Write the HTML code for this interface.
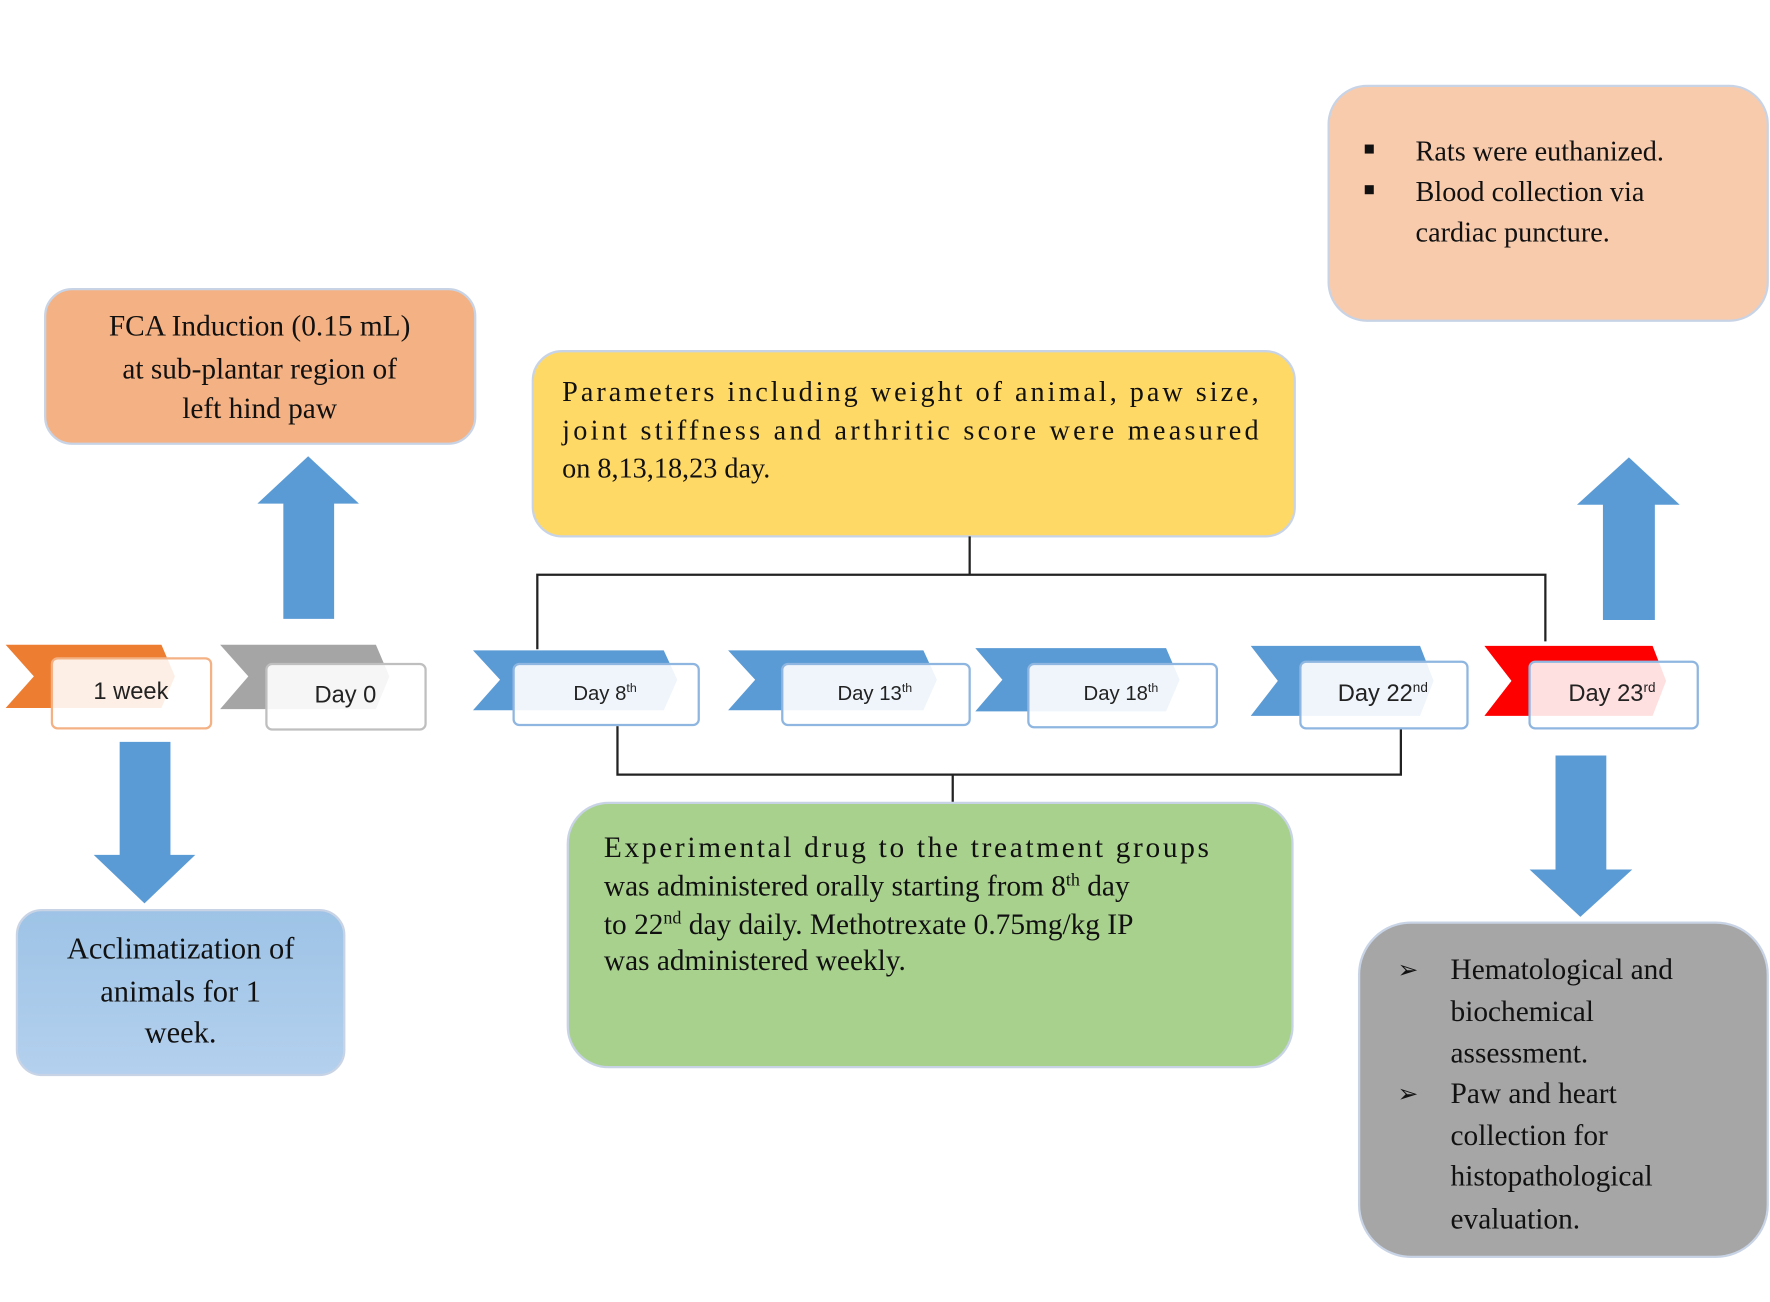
<!DOCTYPE html>
<html><head><meta charset="utf-8"><style>
html,body{margin:0;padding:0;background:#fff;}
svg{display:block;}
.s{font-family:"Liberation Serif",serif;fill:#111;}
.a{font-family:"Liberation Sans",sans-serif;fill:#222;}
</style></head><body>
<svg width="1770" height="1302" viewBox="0 0 1568 1153" preserveAspectRatio="none" xmlns="http://www.w3.org/2000/svg">
<defs>
<linearGradient id="bg" x1="0" y1="0" x2="0" y2="1"><stop offset="0" stop-color="#9dc3e6"/><stop offset="1" stop-color="#b4d0ee"/></linearGradient>
</defs>
<!-- boxes -->
<rect x="40" y="256" width="381" height="137" rx="24" fill="#f4b183" stroke="#c8d4e6" stroke-width="2"/>
<rect x="472" y="311" width="675" height="164" rx="26" fill="#ffd966" stroke="#c8d4e6" stroke-width="2"/>
<rect x="1177" y="76" width="389" height="208" rx="34" fill="#f8cbad" stroke="#c8d4e6" stroke-width="2"/>
<rect x="503" y="711" width="642" height="234" rx="36" fill="#a9d18e" stroke="#c8d4e6" stroke-width="2"/>
<rect x="15" y="806" width="290" height="146" rx="22" fill="url(#bg)" stroke="#c8d4e6" stroke-width="2"/>
<rect x="1204" y="817" width="362" height="296" rx="46" fill="#a6a6a6" stroke="#c8d4e6" stroke-width="2"/>

<!-- arrows -->
<polygon points="251,548 296,548 296,446 318,446 273,404 228,446 251,446" fill="#5b9bd5"/>
<polygon points="1420,549 1466,549 1466,447 1488,447 1443,405 1397,447 1420,447" fill="#5b9bd5"/>
<polygon points="106,657 151,657 151,757 173,757 128,800 83,757 106,757" fill="#5b9bd5"/>
<polygon points="1378,669 1423,669 1423,770 1446,770 1400,812 1355,770 1378,770" fill="#5b9bd5"/>

<!-- connectors -->
<g stroke="#222" stroke-width="2" fill="none">
<polyline points="859,475 859,509"/>
<polyline points="476,575 476,509 1369,509 1369,568"/>
<polyline points="547,643 547,686 1241,686 1241,645"/>
<polyline points="844,686 844,710"/>
</g>

<!-- chevrons -->
<g>
<polygon points="5,571 143,571 155,599 143,627 5,627 30,599" fill="#ed7d31"/>
<rect x="46" y="583" width="141" height="62" rx="5" fill="#fff" fill-opacity="0.88" stroke="#f4b183" stroke-width="2"/>
<polygon points="195,571 333,571 345,599 333,628 195,628 220,599" fill="#a5a5a5"/>
<rect x="236" y="588" width="141" height="58" rx="5" fill="#fff" fill-opacity="0.9" stroke="#bfbfbf" stroke-width="2"/>
<polygon points="419,576 588,576 600,602 588,629 419,629 443,602" fill="#5b9bd5"/>
<rect x="455" y="588" width="164" height="54" rx="5" fill="#fff" fill-opacity="0.9" stroke="#8fb6e0" stroke-width="2"/>
<polygon points="645,576 818,576 830,602 818,629 645,629 669,602" fill="#5b9bd5"/>
<rect x="693" y="588" width="166" height="54" rx="5" fill="#fff" fill-opacity="0.9" stroke="#8fb6e0" stroke-width="2"/>
<polygon points="864,574 1033,574 1045,602 1033,630 864,630 888,602" fill="#5b9bd5"/>
<rect x="911" y="588" width="167" height="56" rx="5" fill="#fff" fill-opacity="0.9" stroke="#8fb6e0" stroke-width="2"/>
<polygon points="1108,572 1258,572 1270,603 1258,634 1108,634 1132,603" fill="#5b9bd5"/>
<rect x="1152" y="586" width="148" height="59" rx="5" fill="#fff" fill-opacity="0.9" stroke="#8fb6e0" stroke-width="2"/>
<polygon points="1315,572 1464,572 1476,603 1464,634 1315,634 1339,603" fill="#ff0000"/>
<rect x="1355" y="586" width="149" height="59" rx="5" fill="#fff" fill-opacity="0.88" stroke="#8fb6e0" stroke-width="2"/>
</g>

<!-- timeline labels -->
<text class="a" x="116" y="619" font-size="21" text-anchor="middle">1 week</text>
<text class="a" x="306" y="622" font-size="21" text-anchor="middle">Day 0</text>
<text class="a" x="536" y="620" font-size="18" text-anchor="middle">Day 8<tspan font-size="11" dy="-7">th</tspan></text>
<text class="a" x="775" y="620" font-size="18" text-anchor="middle">Day 13<tspan font-size="11" dy="-7">th</tspan></text>
<text class="a" x="993" y="620" font-size="18" text-anchor="middle">Day 18<tspan font-size="11" dy="-7">th</tspan></text>
<text class="a" x="1225" y="621" font-size="21" text-anchor="middle">Day 22<tspan font-size="12" dy="-8">nd</tspan></text>
<text class="a" x="1428" y="621" font-size="21" text-anchor="middle">Day 23<tspan font-size="12" dy="-8">rd</tspan></text>

<!-- FCA -->
<g class="s" font-size="26" text-anchor="middle">
<text x="230" y="297">FCA Induction (0.15 mL)</text>
<text x="230" y="335">at sub-plantar region of</text>
<text x="230" y="370">left hind paw</text>
</g>
<!-- params -->
<g class="s" font-size="25">
<text x="498" y="355" textLength="617" lengthAdjust="spacing">Parameters including weight of animal, paw size,</text>
<text x="498" y="389" textLength="617" lengthAdjust="spacing">joint stiffness and arthritic score were measured</text>
<text x="498" y="423">on 8,13,18,23 day.</text>
</g>
<!-- rats -->
<g class="s" font-size="25">
<rect x="1209" y="128" width="8" height="8" fill="#111"/>
<rect x="1209" y="164" width="8" height="8" fill="#111"/>
<text x="1254" y="142">Rats were euthanized.</text>
<text x="1254" y="178">Blood collection via</text>
<text x="1254" y="214">cardiac puncture.</text>
</g>
<!-- green -->
<g class="s" font-size="26">
<text x="535" y="759" textLength="536" lengthAdjust="spacing">Experimental drug to the treatment groups</text>
<text x="535" y="793">was administered orally starting from 8<tspan font-size="16" dy="-9">th</tspan><tspan dy="9"> day</tspan></text>
<text x="535" y="827">to 22<tspan font-size="16" dy="-9">nd</tspan><tspan dy="9"> day daily. Methotrexate 0.75mg/kg IP</tspan></text>
<text x="535" y="859">was administered weekly.</text>
</g>
<!-- acclim -->
<g class="s" font-size="27" text-anchor="middle">
<text x="160" y="849">Acclimatization of</text>
<text x="160" y="887">animals for 1</text>
<text x="160" y="923">week.</text>
</g>
<!-- gray -->
<g class="s" font-size="26">
<text x="1238" y="866" font-size="22" font-family="DejaVu Sans,sans-serif">➢</text>
<text x="1238" y="976" font-size="22" font-family="DejaVu Sans,sans-serif">➢</text>
<text x="1285" y="867">Hematological and</text>
<text x="1285" y="904">biochemical</text>
<text x="1285" y="941">assessment.</text>
<text x="1285" y="977">Paw and heart</text>
<text x="1285" y="1014">collection for</text>
<text x="1285" y="1050">histopathological</text>
<text x="1285" y="1088">evaluation.</text>
</g>
</svg>
</body></html>
